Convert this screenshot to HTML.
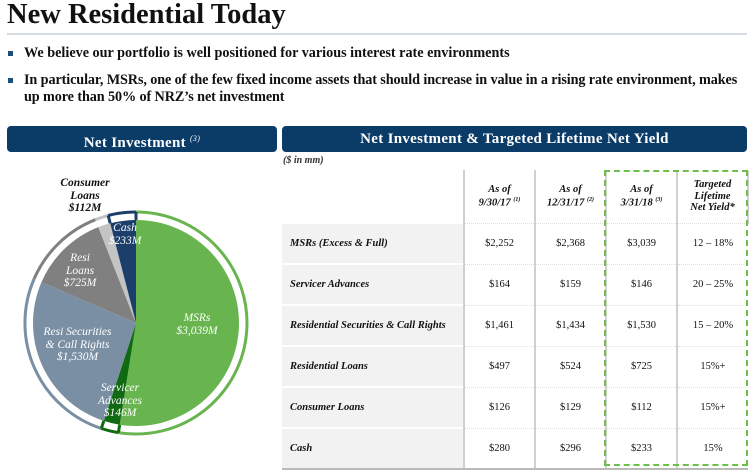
<!DOCTYPE html>
<html><head><meta charset="utf-8"><style>
body{margin:0;width:750px;height:470px;background:#fff;position:relative;overflow:hidden;font-family:"Liberation Serif",serif;color:#111}
.a{position:absolute}
.title{left:7px;top:-1px;font-size:28.5px;font-weight:bold;color:#111}
.rule{left:7px;top:33px;width:740px;height:2px;background:#d5dbe3}
.b{font-size:14.2px;font-weight:bold;left:24px;line-height:17px;width:740px;white-space:nowrap}
.sq{position:absolute;left:-16px;top:6px;width:5px;height:5px;background:#1f4e79}
.bar{background:#0b3c68;color:#fff;border-radius:4px;font-size:15px;font-weight:bold;text-align:center;line-height:26px;height:26px;top:126px;letter-spacing:.3px}
.bar sup{font-size:8px;font-style:italic;font-weight:normal}
.pl{font-style:italic;font-size:11.5px;text-align:center;line-height:12.5px;color:#fff}
table{position:absolute;left:282px;top:170px;border-collapse:collapse;font-size:10.5px}
td{height:39px;text-align:center;border-left:2px solid #d0d0d0;border-top:1px dotted #ddd;padding:0}
td.l{background:#f2f2f2;text-align:left;padding-left:8px;font-weight:bold;font-style:italic;border-left:none;border-top:2px solid #fff;width:173px;font-size:10.5px}
tr.h td{height:52px;font-style:italic;font-weight:bold;font-size:10.5px;line-height:11.5px;border-top:none}
tr.h td.l{background:#fff;border-top:none}
tr:last-child td{border-bottom:2px solid #bbb}
</style></head><body>
<div class="a title">New Residential Today</div>
<div class="a rule"></div>
<div class="a b" style="top:45px"><span class="sq"></span>We believe our portfolio is well positioned for various interest rate environments</div>
<div class="a b" style="top:72px;letter-spacing:-0.1px"><span class="sq"></span>In particular, MSRs, one of the few fixed income assets that should increase in value in a rising rate environment, makes<br>up more than 50% of NRZ’s net investment</div>
<div class="a bar" style="left:7px;width:270px">Net Investment <sup>(3)</sup></div>
<div class="a bar" style="left:282px;width:465px">Net Investment &amp; Targeted Lifetime Net Yield</div>
<div class="a" style="left:283px;top:155px;font-size:10px;font-style:italic;font-weight:bold;color:#333">($ in mm)</div>

<svg class="a" style="left:0;top:0" width="282" height="470">
<path d="M136,323 L136,220 A103,103 0 1 1 119.7,424.7 Z" fill="#68b550"/>
<path d="M136,323 L119.7,424.7 A103,103 0 0 1 103.8,420.9 Z" fill="#0f6a12"/>
<path d="M136,323 L103.8,420.9 A103,103 0 0 1 41.5,282.1 Z" fill="#7a8fa3"/>
<path d="M136,323 L41.5,282.1 A103,103 0 0 1 98.3,227.1 Z" fill="#808080"/>
<path d="M136,323 L98.3,227.1 A103,103 0 0 1 110.2,223.3 Z" fill="#c4c4c4"/>
<path d="M136,323 L110.2,223.3 A103,103 0 0 1 136,220 Z" fill="#1b3e6a"/>
<g fill="none" stroke-width="3">
<path d="M136,212 A111,111 0 1 1 118.4,432.6" stroke="#68b550"/>
<path d="M118.4,432.6 A111,111 0 0 1 101.3,428.5" stroke="#0f6a12"/>
<path d="M101.3,428.5 A111,111 0 0 1 34.1,278.9" stroke="#7a8fa3"/>
<path d="M34.1,278.9 A111,111 0 0 1 95.4,219.7" stroke="#808080"/>
<path d="M95.4,219.7 A111,111 0 0 1 108.2,215.5" stroke="#c4c4c4"/>
<path d="M108.2,215.5 A111,111 0 0 1 136,212" stroke="#1b3e6a"/>
<path d="M108.2,215.5 L110.2,223.3 M136,212 L136,220" stroke="#1b3e6a"/>
<path d="M118.4,432.6 L119.7,424.7 M101.3,428.5 L103.8,420.9" stroke="#0f6a12"/>
</g>
</svg>
<div class="a pl" style="left:52px;top:177px;width:66px;color:#111;font-weight:bold">Consumer<br>Loans<br>$112M</div>
<div class="a pl" style="left:98px;top:222px;width:54px">Cash<br>$233M</div>
<div class="a pl" style="left:52px;top:252px;width:56px">Resi<br>Loans<br>$725M</div>
<div class="a pl" style="left:15px;top:326px;width:125px">Resi Securities<br>&amp; Call Rights<br>$1,530M</div>
<div class="a pl" style="left:160px;top:312px;width:74px">MSRs<br>$3,039M</div>
<div class="a pl" style="left:87px;top:382px;width:66px">Servicer<br>Advances<br>$146M</div>

<table>
<tr class="h"><td class="l"></td><td style="width:69px">As of<br>9/30/17 <sup style="font-size:6px">(1)</sup></td><td style="width:69px">As of<br>12/31/17 <sup style="font-size:6px">(2)</sup></td><td style="width:69px">As of<br>3/31/18 <sup style="font-size:6px">(3)</sup></td><td style="width:69px;border-right:2px solid #d0d0d0">Targeted<br>Lifetime<br>Net Yield*</td></tr>
<tr><td class="l">MSRs (Excess &amp; Full)</td><td>$2,252</td><td>$2,368</td><td>$3,039</td><td>12 – 18%</td></tr>
<tr><td class="l">Servicer Advances</td><td>$164</td><td>$159</td><td>$146</td><td>20 – 25%</td></tr>
<tr><td class="l">Residential Securities &amp; Call Rights</td><td>$1,461</td><td>$1,434</td><td>$1,530</td><td>15 – 20%</td></tr>
<tr><td class="l">Residential Loans</td><td>$497</td><td>$524</td><td>$725</td><td>15%+</td></tr>
<tr><td class="l">Consumer Loans</td><td>$126</td><td>$129</td><td>$112</td><td>15%+</td></tr>
<tr><td class="l">Cash</td><td>$280</td><td>$296</td><td>$233</td><td>15%</td></tr>
</table>
<div class="a" style="left:604px;top:170px;width:140px;height:292px;border:2px dashed #6cc04a"></div>
</body></html>
